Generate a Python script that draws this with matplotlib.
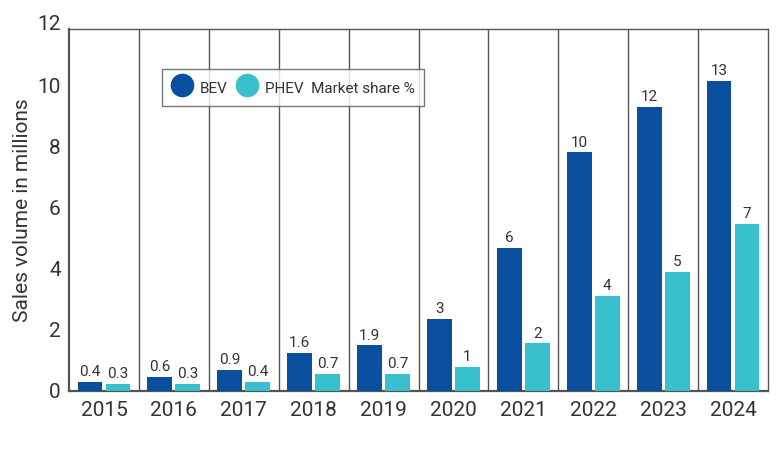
import numpy as np
import matplotlib.pyplot as plt
from matplotlib.lines import Line2D

BEV_COLOR = "#0a4f9d"
PHEV_COLOR = "#38c1cc"
LINE = "#555555"

years = ["2015", "2016", "2017", "2018", "2019", "2020", "2021", "2022", "2023", "2024"]
bev_sales = [0.30, 0.47, 0.70, 1.26, 1.49, 2.35, 4.68, 7.81, 9.30, 10.16]
phev_sales = [0.23, 0.23, 0.30, 0.55, 0.55, 0.78, 1.56, 3.12, 3.91, 5.47]
bev_share = ["0.4", "0.6", "0.9", "1.6", "1.9", "3", "6", "10", "12", "13"]
phev_share = ["0.3", "0.3", "0.4", "0.7", "0.7", "1", "2", "4", "5", "7"]
y_ticks = [0, 2, 4, 6, 8, 10, 12]

plt.rcParams.update(
    {
        "font.family": ["Roboto", "DejaVu Sans"],
        "text.color": "#333333",
        "axes.labelcolor": "#333333",
        "xtick.color": "#333333",
        "ytick.color": "#333333",
    }
)

fig = plt.figure(figsize=(7.82, 4.50), dpi=100)
ax = fig.add_axes([69 / 782, 1 - 391 / 450, 699 / 782, 362 / 450])

x = np.arange(len(years))
w = 0.355
off = 0.2
ax.bar(x - off, bev_sales, w, color=BEV_COLOR, zorder=3)
ax.bar(x + off, phev_sales, w, color=PHEV_COLOR, zorder=3)

for xi, v, s in zip(x, bev_sales, bev_share):
    ax.annotate(s, (xi - off, v), xytext=(0, 2), textcoords="offset points",
                ha="center", va="bottom", fontsize=11, color="#333333")
for xi, v, s in zip(x, phev_sales, phev_share):
    ax.annotate(s, (xi + off, v), xytext=(0, 2), textcoords="offset points",
                ha="center", va="bottom", fontsize=11, color="#333333")

# category dividers
for xi in x[:-1]:
    ax.axvline(xi + 0.5, color=LINE, lw=1.0, zorder=1)

ax.set_xlim(-0.5, len(years) - 0.5)
ax.set_ylim(0, 11.85)
ax.set_xticks(x)
ax.set_xticklabels(years, fontsize=15)
ax.set_yticks(y_ticks[:-1])
ax.set_yticklabels([str(t) for t in y_ticks[:-1]], fontsize=15)
ax.text(-0.012, y_ticks[-1], str(y_ticks[-1]), transform=ax.get_yaxis_transform(),
        ha="right", va="center", fontsize=15, color="#333333", clip_on=False)
ax.tick_params(length=0, pad=6)
ax.tick_params(axis="x", pad=7)
ax.set_ylabel("Sales volume in millions", fontsize=15, labelpad=4)

for side in ["left", "bottom"]:
    ax.spines[side].set_color(LINE)
    ax.spines[side].set_linewidth(1.6)
for side in ["top", "right"]:
    ax.spines[side].set_color(LINE)
    ax.spines[side].set_linewidth(1.0)

handles = [
    Line2D([], [], marker="o", ls="none", ms=16, color=BEV_COLOR),
    Line2D([], [], marker="o", ls="none", ms=16, color=PHEV_COLOR),
]
leg = ax.legend(handles, ["BEV", "PHEV  Market share %"], ncol=2,
                loc="upper left", bbox_to_anchor=(93 / 699, 1 - 40 / 362),
                borderaxespad=0, frameon=True, fancybox=False, edgecolor=LINE,
                fontsize=11, handletextpad=0.45, columnspacing=0.5,
                handlelength=1.45, handleheight=1.5, borderpad=0.6)
leg.get_frame().set_linewidth(1.0)
leg.set_zorder(5)

fig.savefig("out.png", dpi=100)
